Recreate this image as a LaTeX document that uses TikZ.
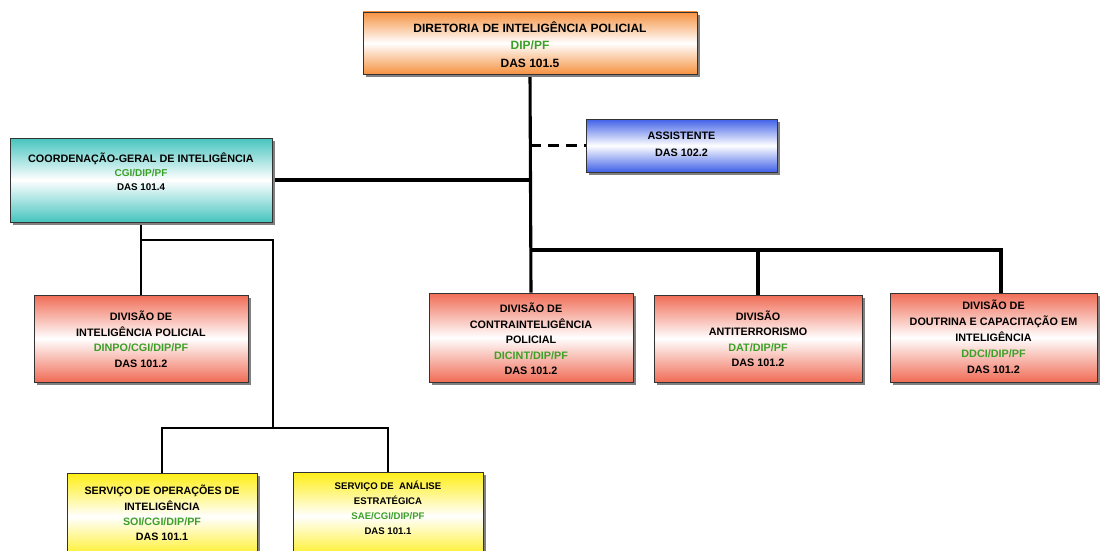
\documentclass[tikz,border=0pt]{standalone}
\usepackage{fontspec}
\setmainfont{Liberation Sans}
\usetikzlibrary{shadows,backgrounds}
\definecolor{orgorange}{RGB}{246,146,64}
\definecolor{orgteal}{RGB}{70,196,190}
\definecolor{orgblue}{RGB}{64,96,232}
\definecolor{orgred}{RGB}{240,108,86}
\definecolor{orgyellow}{RGB}{255,238,20}
\definecolor{codegreen}{RGB}{60,160,40}
\begin{document}
\begin{tikzpicture}[x=1pt,y=-1pt,
  box/.style={draw=black!80, line width=0.7pt, inner sep=0pt,
    drop shadow={shadow xshift=3pt,shadow yshift=-3pt,fill=black!50,opacity=1}},
  grad/.style={top color=#1,bottom color=#1,middle color=white},
  txt/.style 2 args={font=\bfseries\fontsize{#1}{#2}\selectfont, align=center, inner sep=0pt},
  mainline/.style={line width=3.1pt},
  subline/.style={line width=2.7pt},
  dashline/.style={line width=3.1pt, dash pattern=on 11pt off 7pt}]
\useasboundingbox (0,0) rectangle (1100,551);

% boxes
\node[box,grad=orgorange,minimum width=334pt,minimum height=62pt] (dip) at (530,43) {};
\node[box,grad=orgteal,minimum width=262pt,minimum height=84pt] (cgi) at (141,180) {};
\node[box,grad=orgblue,minimum width=191pt,minimum height=53pt] (assist) at (681.5,145.5) {};
\node[box,grad=orgred,minimum width=214pt,minimum height=87pt] (dinpo) at (141,338.5) {};
\node[box,grad=orgred,minimum width=204pt,minimum height=89pt] (dicint) at (531,337.5) {};
\node[box,grad=orgred,minimum width=208pt,minimum height=87pt] (dat) at (758,338.5) {};
\node[box,grad=orgred,minimum width=207pt,minimum height=89pt] (ddci) at (993.5,337.5) {};
\node[box,grad=orgyellow,minimum width=190pt,minimum height=87pt] (soi) at (162,516.5) {};
\node[box,grad=orgyellow,minimum width=190pt,minimum height=88pt] (sae) at (388,516) {};

% texts
\node[txt={12}{17.5}] (dipt) at (530,44.5) {DIRETORIA DE INTELIGÊNCIA POLICIAL\\\textcolor{codegreen}{DIP/PF}\\DAS 101.5};
\node[txt={10.8}{14}] (cgit) at (141,172) {COORDENAÇÃO-GERAL DE INTELIGÊNCIA\\\textcolor{codegreen}{\fontsize{10}{14}\selectfont CGI/DIP/PF}\\{\fontsize{9.8}{14}\selectfont DAS 101.4}};
\node[txt={10.8}{17}] (asst) at (681.5,144.5) {ASSISTENTE\\DAS 102.2};
\node[txt={10.8}{15.5}] (dinpot) at (141,339) {DIVISÃO DE\\INTELIGÊNCIA POLICIAL\\\textcolor{codegreen}{DINPO/CGI/DIP/PF}\\DAS 101.2};
\node[txt={10.8}{15.5}] (dicintt) at (531,339) {DIVISÃO DE\\CONTRAINTELIGÊNCIA\\POLICIAL\\\textcolor{codegreen}{DICINT/DIP/PF}\\DAS 101.2};
\node[txt={10.8}{15.5}] (datt) at (758,338.5) {DIVISÃO\\ANTITERRORISMO\\\textcolor{codegreen}{DAT/DIP/PF}\\DAS 101.2};
\node[txt={10.8}{16}] (ddcit) at (993.5,337) {DIVISÃO DE\\DOUTRINA E CAPACITAÇÃO EM\\INTELIGÊNCIA\\\textcolor{codegreen}{DDCI/DIP/PF}\\DAS 101.2};
\node[txt={10.7}{15.3}] (soit) at (162,513) {SERVIÇO DE OPERAÇÕES DE\\INTELIGÊNCIA\\\textcolor{codegreen}{SOI/CGI/DIP/PF}\\DAS 101.1};
\node[txt={9.6}{15}] (saet) at (388,508) {SERVIÇO DE \ ANÁLISE\\ESTRATÉGICA\\\textcolor{codegreen}{SAE/CGI/DIP/PF}\\DAS 101.1};

% connectors
\coordinate (j1) at (531,250);
\coordinate (c1) at (141,240);
\coordinate (c2) at (273,428);
\coordinate (ddcitop) at ([xshift=7.5pt]ddci.north);
\begin{pgfonlayer}{background}
\fill[white] (0,0) rectangle (1100,551);
\draw[mainline] (dip.south) -- (dicint.north);
\draw[mainline] (cgi.east) -- (cgi.east -| dip.south);
\draw[mainline] (j1) -- (j1 -| ddcitop) -- (ddcitop);
\draw[mainline] (j1 -| dat.north) -- (dat.north);
\draw[dashline] (dip.south |- assist.west) -- (assist.west);
\draw[subline] (cgi.south) -- (dinpo.north);
\draw[subline] (c1) -- (c1 -| c2) -- (c2);
\draw[subline] (soi.north) -- (soi.north |- c2) -- (sae.north |- c2) -- (sae.north);
\end{pgfonlayer}
\end{tikzpicture}
\end{document}
